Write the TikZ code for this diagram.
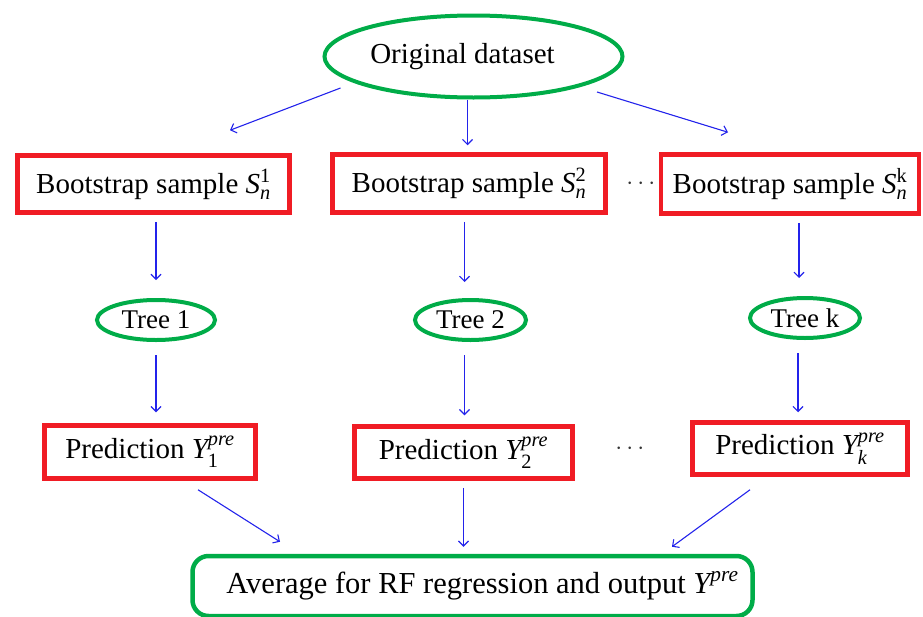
\documentclass[tikz,border=0pt]{standalone}
\usepackage{amsmath}
\usepackage{fontspec}
\setmainfont{Liberation Serif}
\usetikzlibrary{shapes.geometric,arrows.meta,calc}
\definecolor{boxred}{RGB}{240,28,36}
\definecolor{ellgreen}{RGB}{0,172,72}
\definecolor{arrblue}{RGB}{35,35,235}
\begin{document}
\begin{tikzpicture}[x=1pt,y=-1pt,
  txt/.style={font=\fontsize{29}{34}\selectfont, text=black},
  redbox/.style={txt, rectangle, draw=boxred, line width=4.5pt, inner sep=0pt},
  greenell/.style={txt, ellipse, draw=ellgreen, line width=4pt, inner sep=0pt},
  avgbox/.style={txt, rectangle, rounded corners=16pt, draw=ellgreen, line width=4.5pt, inner sep=0pt},
  arr/.style={draw=arrblue, line width=1.1pt, -{Straight Barb[length=5pt,width=10pt]}},
  dots/.style={font=\fontsize{24}{28}\selectfont, text=black!80}]
\useasboundingbox (0,0) rectangle (923,616);

\node[greenell, minimum width=298pt, minimum height=82pt] (orig) at (473.5,56.5) {Original dataset\hspace*{22pt}};

\node[redbox, minimum width=272pt, minimum height=57pt] (b1) at (153.5,184) {Bootstrap sample $\textit{S}_{\textit{n}}^{\textup{1}}$};
\node[redbox, minimum width=273pt, minimum height=58pt] (b2) at (469,183.5) {Bootstrap sample $\textit{S}_{\textit{n}}^{\textup{2}}$};
\node[redbox, minimum width=258pt, minimum height=59pt] (b3) at (790,184) {Bootstrap sample $\textit{S}_{\textit{n}}^{\textup{k}}$};
\node[dots] (d1) at (643,184) {$\cdots$};

\node[greenell, minimum width=118pt, minimum height=40pt, font=\fontsize{27}{32}\selectfont] (t1) at (156,320) {Tree 1};
\node[greenell, minimum width=111pt, minimum height=40pt, font=\fontsize{27}{32}\selectfont] (t2) at (470.5,320) {Tree 2};
\node[greenell, minimum width=110pt, minimum height=40pt, font=\fontsize{27}{32}\selectfont] (t3) at (805,318) {Tree k};

\node[redbox, minimum width=211pt, minimum height=53pt] (p1) at (150,452) {Prediction $\textit{Y}_{\textup{1}}^{\textit{pre}}$};
\node[redbox, minimum width=218pt, minimum height=52pt] (p2) at (463.5,452.5) {Prediction $\textit{Y}_{\textup{2}}^{\textit{pre}}$};
\node[redbox, minimum width=215pt, minimum height=52pt] (p3) at (800,448.5) {Prediction $\textit{Y}_{\textit{k}}^{\textit{pre}}$};
\node[dots] (d2) at (632,449) {$\cdots$};

\node[avgbox, minimum width=560pt, minimum height=60pt, text depth=8pt, font=\fontsize{30.5}{36}\selectfont] (avg) at (472.5,586) {\hspace*{20pt}Average for RF regression and output $\textit{Y}^{\textit{pre}}$};

% arrows from original dataset
\draw[arr] ($(orig)+(-133,31.5)$) -- ($(b1.north)+(76.5,-23)$);
\draw[arr] ($(orig.south)+(-6,0)$) -- ($(orig.south |- b2.north)+(-6,0)$) [shorten >=7pt];
\draw[arr] ($(orig)+(123.5,35.5)$) -- ($(b3.north)+(-62,-20)$);

% bootstrap -> trees
\draw[arr, shorten <=7pt, shorten >=18pt] (t1 |- b1.south) -- (t1.north);
\draw[arr, shorten <=7pt, shorten >=16pt] ($(t2 |- b2.south)+(-6,0)$) -- ($(t2.north)+(-6,0)$);
\draw[arr, shorten <=7pt, shorten >=18pt] ($(t3 |- b3.south)+(-6,0)$) -- ($(t3.north)+(-6,0)$);

% trees -> predictions
\draw[arr, shorten <=13pt, shorten >=11pt] (t1.south) -- (t1.south |- p1.north);
\draw[arr, shorten <=13pt, shorten >=9pt] ($(t2.south)+(-6,0)$) -- ($(t2.south |- p2.north)+(-6,0)$);
\draw[arr, shorten <=13pt, shorten >=8pt] ($(t3.south)+(-7,0)$) -- ($(t3.south |- p3.north)+(-7,0)$);

% predictions -> average
\draw[arr] ($(p1.south)+(48,9)$) -- ($(avg.north)+(-192.5,-12)$);
\draw[arr, shorten <=7pt, shorten >=7pt] (p2.south) -- (p2.south |- avg.north);
\draw[arr] ($(p3.south)+(-50,13)$) -- ($(avg.north)+(199.5,-7)$);
\end{tikzpicture}
\end{document}
